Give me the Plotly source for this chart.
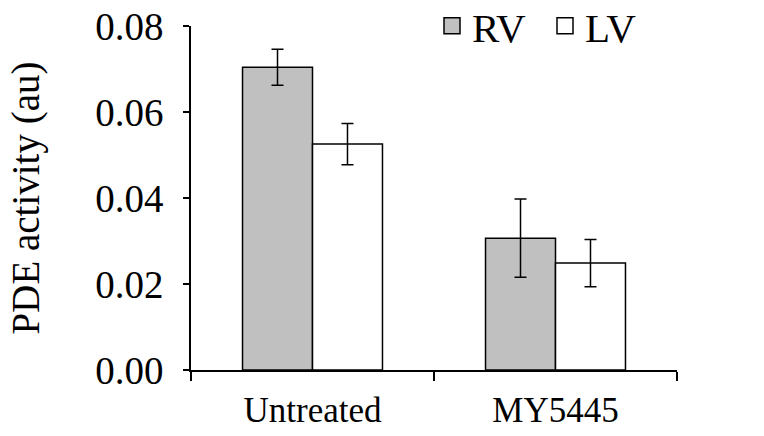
import plotly.graph_objects as go

categories = ["Untreated", "MY5445"]
rv_values = [0.0705, 0.0307]
rv_errors = [0.0042, 0.0091]
lv_values = [0.0526, 0.0249]
lv_errors = [0.0048, 0.0055]
y_ticks = [0.00, 0.02, 0.04, 0.06, 0.08]

FONT = "Liberation Serif, Times New Roman, serif"

fig = go.Figure()
fig.add_trace(go.Bar(
    x=categories, y=rv_values, name="RV", showlegend=False,
    marker=dict(color="#c0c0c0", line=dict(color="black", width=1.5)),
    error_y=dict(type="data", array=rv_errors, color="black", thickness=1.5, width=6),
))
fig.add_trace(go.Bar(
    x=categories, y=lv_values, name="LV", showlegend=False,
    marker=dict(color="white", line=dict(color="black", width=1.5)),
    error_y=dict(type="data", array=lv_errors, color="black", thickness=1.5, width=6),
))
# legend entries
fig.add_trace(go.Scatter(
    x=[None], y=[None], mode="markers", name="RV",
    marker=dict(symbol="square", size=16, color="#c0c0c0", line=dict(color="black", width=1.5)),
))
fig.add_trace(go.Scatter(
    x=[None], y=[None], mode="markers", name="LV",
    marker=dict(symbol="square", size=16, color="white", line=dict(color="black", width=1.5)),
))

fig.update_layout(
    width=764, height=436,
    margin=dict(l=191, r=87, t=26, b=66, autoexpand=False),
    paper_bgcolor="white", plot_bgcolor="white",
    font=dict(family=FONT, size=35, color="black"),
    barmode="group", bargap=0.424, bargroupgap=0,
    showlegend=True,
    legend=dict(orientation="h", x=(432 - 191) / 486, y=1.0, xanchor="left", yanchor="middle",
                font=dict(size=41, color="black"), itemsizing="trace", bgcolor="rgba(0,0,0,0)",
                entrywidth=68, entrywidthmode="pixels", tracegroupgap=0),
    xaxis=dict(type="category", showline=True, linecolor="black", linewidth=1.5,
               ticks="outside", tickson="boundaries", ticklen=9, tickcolor="black",
               tickwidth=1.5, showgrid=False, zeroline=False, range=[-0.5, 1.5],
               tickfont=dict(size=35, color="black"), ticklabelstandoff=8),
    yaxis=dict(range=[0, 0.0801], tickvals=y_ticks, tickformat=".2f",
               showline=True, linecolor="black", linewidth=1.5,
               ticks="outside", ticklen=6, tickcolor="black", tickwidth=1.5,
               showgrid=False, zeroline=False, ticklabelstandoff=12,
               tickfont=dict(size=39, color="black"),
               title=dict(text="PDE activity (au)", font=dict(size=39, color="black"), standoff=44)),
)

fig.write_html("out.html", post_script="document.body.style.margin='0';",
               config={"displayModeBar": False})
